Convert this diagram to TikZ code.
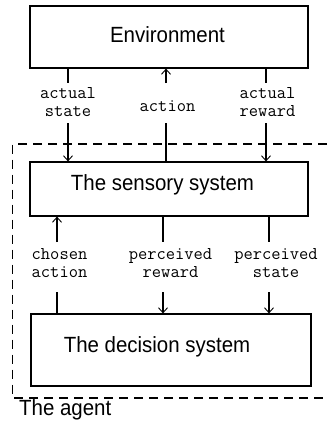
\documentclass[tikz,border=0pt]{standalone}
\usepackage{fontspec}
\newfontfamily\boxfont{Liberation Sans}[FakeStretch=0.93]
\usetikzlibrary{arrows.meta}
\begin{document}
\begin{tikzpicture}[x=1pt,y=-1pt,
  box/.style={draw, line width=1.2pt, rectangle, inner sep=0pt, font=\boxfont\fontsize{22}{24}\selectfont},
  lbl/.style={inner sep=0pt, align=center, font=\ttfamily\fontsize{18}{18}\selectfont},
  conn/.style={line width=1.2pt},
  arr/.style={conn, -{Straight Barb[length=5pt,width=9pt,line width=0.9pt]}},
  agentline/.style={line width=1.2pt, dash pattern=on 9pt off 6pt}
]
\useasboundingbox (0,0) rectangle (327,431);
\fill[white] (0,0) rectangle (327,431);

% boxes
\node[box, minimum width=278pt, minimum height=62pt,
  label={[font=\boxfont\fontsize{22}{24}\selectfont, xshift=-1.5pt, yshift=2pt]center:Environment}] (env) at (169,37) {};
\node[box, minimum width=278pt, minimum height=54pt,
  label={[font=\boxfont\fontsize{22}{24}\selectfont, xshift=-6.5pt, yshift=4pt]center:The sensory system}] (sens) at (169,189) {};
\node[box, minimum width=280pt, minimum height=72pt,
  label={[font=\boxfont\fontsize{22}{24}\selectfont, xshift=-14pt, yshift=3pt]center:The decision system}] (dec) at (171,350) {};

% agent boundary
\draw[agentline] (327,144) -- (12.5,144) -- (12.5,398) -- (327,398);
\node[font=\boxfont\fontsize{22}{24}\selectfont, inner sep=0pt, anchor=base west] (agent) at (19,415) {The agent};

% gap coordinates, top
\coordinate (as1) at (68,83);  \coordinate (as2) at (68,123);
\coordinate (ac1) at (166,83); \coordinate (ac2) at (166,123);
\coordinate (ar1) at (266,83); \coordinate (ar2) at (266,123);
% gap coordinates, bottom
\coordinate (ca1) at (57,242);  \coordinate (ca2) at (57,292);
\coordinate (pr1) at (163,242); \coordinate (pr2) at (163,292);
\coordinate (ps1) at (269,242); \coordinate (ps2) at (269,292);

% labels
\node[lbl] (las) at (68,102.5) {actual\\state};
\node[lbl] (lac) at (167.5,106.5) {action};
\node[lbl] (lar) at (267.5,102.5) {actual\\reward};
\node[lbl] (lca) at (59.5,263) {chosen\\action};
\node[lbl] (lpr) at (170.5,263) {perceived\\reward};
\node[lbl] (lps) at (276,263) {perceived\\state};

% connectors top
\draw[conn] (env.south -| as1) -- (as1);
\draw[arr] (as2) -- (sens.north -| as2);
\draw[arr] (ac1) -- (env.south -| ac1);
\draw[conn] (sens.north -| ac2) -- (ac2);
\draw[conn] (env.south -| ar1) -- (ar1);
\draw[arr] (ar2) -- (sens.north -| ar2);
% connectors bottom
\draw[arr] (ca1) -- (sens.south -| ca1);
\draw[conn] (dec.north -| ca2) -- (ca2);
\draw[conn] (sens.south -| pr1) -- (pr1);
\draw[arr] (pr2) -- (dec.north -| pr2);
\draw[conn] (sens.south -| ps1) -- (ps1);
\draw[arr] (ps2) -- (dec.north -| ps2);
\end{tikzpicture}
\end{document}
